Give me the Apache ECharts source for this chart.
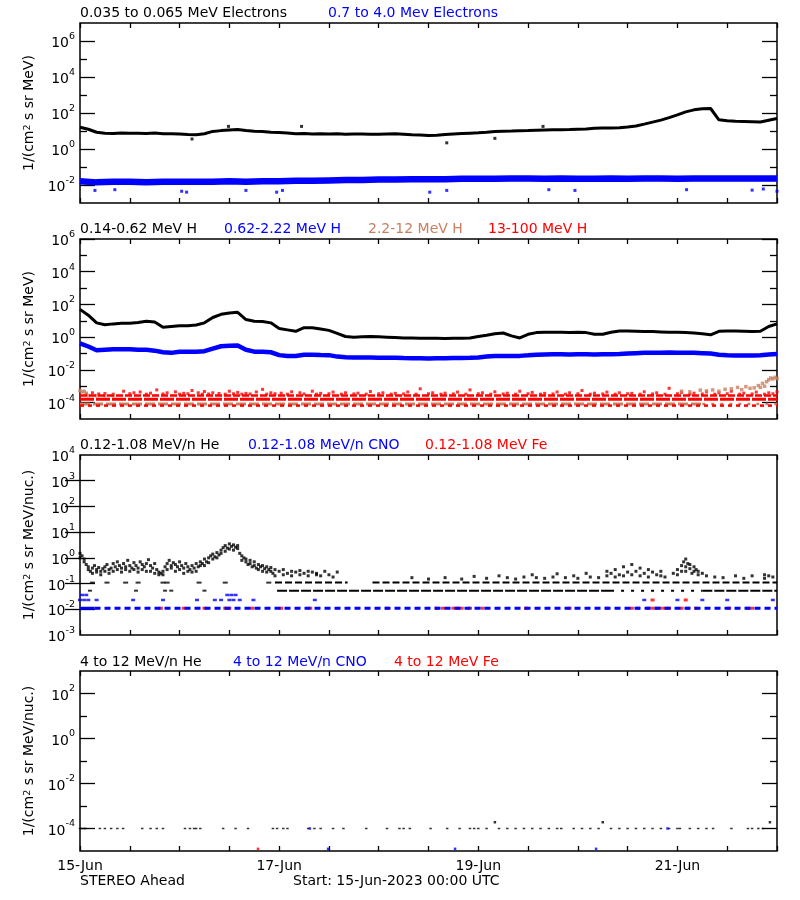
<!DOCTYPE html>
<html><head><meta charset="utf-8">
<script src="https://cdn.jsdelivr.net/npm/echarts@6/dist/echarts.min.js"></script>
<style>html,body{margin:0;padding:0;background:#fff}#c{width:800px;height:900px}</style>
</head><body><div id="c"></div>
<script>
// ---------------- DATA ----------------
// time in hours since 15-Jun-2023 00:00 UTC
const xLabelHours = [0, 48, 96, 144];
const xLabels = ['15-Jun', '17-Jun', '19-Jun', '21-Jun'];
const H2 = Array.from({length: 85}, (_, i) => i * 2);   // sample hours, 2 h cadence
const H4 = Array.from({length: 43}, (_, i) => i * 4);   // sample hours, 4 h cadence

// Panel 1: electrons
const eLowV = [16,12.5,8.5,7.5,7.2,7.8,7.4,7.6,7.3,7.8,
  7.1,7.0,6.8,6.3,6.2,7.0,9.5,10.5,11.5,12.0,
  10.8,9.8,9.4,8.6,8.2,7.8,7.0,7.2,6.9,7.1,
  6.8,7.0,6.7,6.9,6.8,6.5,6.7,6.9,7.0,6.6,
  6.2,6.0,5.6,5.8,6.4,6.8,7.2,7.6,8.0,8.6,
  9.5,9.8,10,10.3,10.6,11,11.3,11.6,11.8,12,
  12.5,13,14,14.5,14.5,15,16.5,19,24,31,
  40,55,78,115,150,170,178,42,37,35,
  34,33,32,40,50];
const eLowOut = [[27,3.6],[35.8,18],[53.4,18],[88.4,2.2],[100,3.9],[111.6,18]];
const eHighV = [0.016,0.014,0.015,0.015,0.014,0.015,0.015,0.015,0.015,0.016,
  0.015,0.016,0.016,0.017,0.017,0.018,0.019,0.019,0.02,0.02,
  0.021,0.021,0.021,0.022,0.022,0.022,0.023,0.023,0.022,0.023,
  0.022,0.022,0.023,0.022,0.023,0.023,0.022,0.023,0.023,0.023,
  0.023,0.023,0.023];
const eHighOut = [[3.6,0.005],[8.4,0.0055],[24.5,0.0045],[25.7,0.004],[40,0.005],[47.4,0.004],[48.8,0.005],
  [84.3,0.004],[88.4,0.005],[113,0.0055],[119.3,0.005],[146.2,0.0055],[162,0.0052],[164.7,0.006],[168,0.0045]];

// Panel 2: protons
const hLowV = [50,22,7.5,5.8,6.5,7.0,7.2,8.0,9.5,8.5,
  4.0,4.5,5.0,5.0,5.5,7.5,16,25,30,33,
  12,9.5,9.0,7.5,3.4,2.8,2.3,3.8,3.8,3.2,
  2.6,1.7,1.1,1.0,1.05,1.1,1.05,1.0,0.95,0.9,
  0.88,0.85,0.85,0.85,0.83,0.85,0.85,0.9,1.1,1.3,
  1.6,1.8,1.2,0.9,1.5,1.9,2.0,2.0,2.0,1.9,
  2.0,1.9,1.5,1.5,2.0,2.4,2.4,2.3,2.2,2.2,
  2.1,2.0,2.0,1.9,1.8,1.6,1.4,2.3,2.4,2.4,
  2.3,2.2,2.3,4.5,6.5];
const hMidV = [0.42,0.27,0.16,0.17,0.18,0.18,0.18,0.17,0.17,0.15,
  0.12,0.11,0.13,0.13,0.13,0.14,0.2,0.28,0.3,0.31,
  0.17,0.13,0.13,0.12,0.08,0.07,0.07,0.085,0.085,0.082,
  0.08,0.065,0.06,0.058,0.058,0.057,0.055,0.055,0.055,0.053,
  0.052,0.052,0.05,0.052,0.052,0.053,0.053,0.055,0.058,0.065,
  0.07,0.072,0.07,0.072,0.078,0.085,0.088,0.09,0.09,0.088,
  0.09,0.09,0.088,0.09,0.092,0.095,0.1,0.105,0.11,0.11,
  0.11,0.115,0.11,0.11,0.11,0.105,0.1,0.085,0.078,0.075,
  0.075,0.075,0.078,0.088,0.095];
const hRedRowLevels = [2.7e-4, 1.6e-4, 6.6e-5];
const hSiennaRowLevel = 8.3e-5;
const hSiennaRowSegs = [[0, 150]];
const hSiennaRowSparseSegs = [[150, 168]];
const hRedUpper = [[3,4e-4],[6,3.6e-4],[10.5,5e-4],[13,4e-4],[14.5,4.5e-4],[17,3.8e-4],[18.5,6e-4],[21,4e-4],
  [23,4.6e-4],[25,3.7e-4],[27,5.5e-4],[28.5,4e-4],[30,4.8e-4],[32,4e-4],[33.5,3.6e-4],[36,5e-4],[38,4.2e-4],
  [40,3.7e-4],[42.5,4.5e-4],[44,6.5e-4],[46,4e-4],[48.5,3.8e-4],[51,4.6e-4],[53,4e-4],[56,5e-4],[58,3.7e-4],
  [61,4.4e-4],[64,4e-4],[67,3.8e-4],[70,4.8e-4],[73,4e-4],[76,3.7e-4],[79,4.5e-4],[82,7e-4],[85,4e-4],
  [88,3.8e-4],[91,4.4e-4],[94,6e-4],[97,4e-4],[100,4.6e-4],[103,3.8e-4],[106,5e-4],[109,4.2e-4],[112,3.7e-4],
  [115,4.5e-4],[118,4e-4],[121,5.5e-4],[124,3.8e-4],[127,4.4e-4],[130,4e-4],[133,3.7e-4],[136,4.6e-4],
  [139,4e-4],[142,7.5e-4],[145,4.2e-4],[148,3.8e-4],[151,4.5e-4],[154,4e-4],[157,5e-4],[160,3.8e-4],
  [163,4.4e-4],[166,4e-4],[168,4.6e-4],
  [1.5,3.3e-4],[4.5,3.4e-4],[8,3.3e-4],[12,3.5e-4],[16,3.3e-4],[20,3.4e-4],[24,3.3e-4],[26,3.5e-4],[29.5,3.3e-4],
  [31,3.4e-4],[35,3.3e-4],[37,3.5e-4],[39,3.3e-4],[41,3.4e-4],[45,3.3e-4],[47,3.5e-4],[50,3.3e-4],[54,3.4e-4],
  [57,3.3e-4],[60,3.5e-4],[63,3.3e-4],[66,3.4e-4],[69,3.3e-4],[72,3.5e-4],[75,3.3e-4],[78,3.4e-4],[81,3.3e-4],
  [84,3.5e-4],[87,3.3e-4],[90,3.4e-4],[93,3.3e-4],[96,3.5e-4],[99,3.3e-4],[102,3.4e-4],[105,3.3e-4],[108,3.5e-4],
  [111,3.3e-4],[114,3.4e-4],[117,3.3e-4],[120,3.5e-4],[123,3.3e-4],[126,3.4e-4],[129,3.3e-4],[132,3.5e-4],
  [135,3.3e-4],[138,3.4e-4],[141,3.3e-4],[144,3.5e-4],[147,3.3e-4],[150,3.4e-4],[153,3.3e-4],[156,3.5e-4],
  [159,3.3e-4],[162,3.4e-4],[165,3.3e-4],[167,3.5e-4]];
const hSiennaPts = [[0,5.5e-4],[0.5,4.5e-4],[1,5e-4],[1.5,3.8e-4],[2,2.7e-4],[4,2.7e-4],[6,2.7e-4],[8,2.7e-4],
  [145,5e-4],[147,4.6e-4],[149.5,5.8e-4],[151,5.2e-4],[152.5,6e-4],[154,5e-4],[155.5,6.5e-4],[157,7e-4],
  [158.5,8.5e-4],[159.5,6.2e-4],[160.5,9.5e-4],[161.5,7.5e-4],[162.5,8e-4],[163.5,1.1e-3],[164,8.5e-4],
  [164.5,1.5e-3],[165,1.0e-3],[165.5,1.9e-3],[166,2.5e-3],[166.5,3.2e-3],[167,2.8e-3],[167.5,3.5e-3],[168,3.0e-3]];

// Panel 3: 0.12-1.08 MeV/n heavy ions
const heScatter = [[0,1.5],[0,1.0],[0.5,1.2],[1,0.9],[1,0.7],[1.5,0.55],[2,0.45],[2,0.35],[2.5,0.3],[3,0.4],[3,0.25],
  [3.5,0.5],[4,0.35],[4,0.28],[4.5,0.42],[5,0.3],[5,0.22],[5.5,0.38],[6,0.45],[6,0.3],[6.5,0.55],[7,0.35],[7,0.25],
  [7.5,0.4],[8,0.6],[8,0.3],[8.5,0.45],[9,0.35],[9,0.7],[9.5,0.5],[10,0.4],[10,0.28],[10.5,0.6],[11,0.45],[11,0.35],
  [11.5,0.8],[12,0.5],[12,0.3],[12.5,0.4],[13,0.65],[13,0.35],[13.5,0.5],[14,0.4],[14,0.28],[14.5,0.7],[15,0.55],
  [15,0.35],[15.5,0.45],[16,0.3],[16,0.6],[16.5,0.85],[17,0.5],[17,0.3],[17.5,0.4],[18,0.25],[18,0.6],[18.5,0.35],
  [19,0.28],[19,0.22],[19.5,0.25],[20,0.22],[20,0.3],[20.5,0.45],[21,0.6],[21,0.35],[21.5,0.8],[22,0.5],[22,0.4],
  [22.5,0.65],[23,0.3],[23,0.55],[23.5,0.45],[24,0.7],[24,0.35],[24.5,0.5],[25,0.4],[25,0.25],[25.5,0.6],[26,0.3],
  [26,0.45],[26.5,0.35],[27,0.5],[27,0.28],[27.5,0.4],[28,0.3],[28,0.6],[28.5,0.45],[29,0.5],[29,0.7],[29.5,0.6],
  [30,0.9],[30,0.5],[30.5,0.7],[31,1.0],[31,0.65],[31.5,1.2],[32,0.9],[32,1.4],[32.5,1.1],[33,1.6],[33,1.0],
  [33.5,1.3],[34,2.0],[34,1.5],[34.5,2.5],[35,1.8],[35,3.0],[35.5,2.4],[36,3.5],[36,2.2],[36.5,2.8],[37,3.2],
  [37,2.0],[37.5,2.6],[38,2.3],[38,3.0],[38.5,1.5],[39,1.2],[39,0.8],[39.5,1.0],[40,0.7],[40,0.9],[40.5,0.55],
  [41,0.6],[41,0.8],[41.5,0.45],[42,0.5],[42,0.7],[42.5,0.4],[43,0.55],[43,0.35],[43.5,0.45],[44,0.3],[44,0.5],
  [44.5,0.38],[45,0.45],[45,0.28],[45.5,0.35],[46,0.3],[46,0.42],[46.5,0.25],[47,0.35],[47,0.2],
  [48,0.3],[49,0.22],[49,0.35],[50,0.25],[51,0.3],[51,0.2],[52,0.28],[53,0.22],[53,0.32],[54,0.25],[55,0.3],
  [55,0.2],[56,0.28],[57,0.22],[57,0.25],[58,0.2],[59,0.3],[60,0.22],[61,0.18],[62,0.28],
  [80,0.17],[84,0.15],[88,0.17],[92,0.15],[95,0.19],[98,0.16],[101,0.2],[103,0.17],[105,0.15],[107,0.18],
  [109,0.22],[110,0.17],[112,0.16],[114,0.18],[115,0.24],[117,0.17],[119,0.2],[120,0.16],[122,0.25],[123,0.18],
  [125,0.17],[127,0.3],[127,0.2],[128,0.25],[129,0.18],[129,0.35],[130,0.22],[131,0.45],[131,0.2],[132,0.28],
  [133,0.55],[133,0.22],[134,0.3],[135,0.2],[135,0.4],[136,0.25],[137,0.35],[137,0.18],[138,0.28],[139,0.22],
  [140,0.3],[140,0.2],[141,0.18],[143,0.25],[144,0.35],[144,0.22],[145,0.5],[145,0.3],[145.5,0.7],[146,0.45],
  [146,0.9],[146,0.3],[146.5,0.6],[147,0.38],[147,0.55],[147.5,0.25],[148,0.45],[148,0.3],[148.5,0.35],[149,0.3],
  [149,0.22],[150,0.25],[151,0.2],[153,0.18],[155,0.17],[158,0.2],[160,0.16],[162,0.2],[165,0.22],[165,0.16],
  [166,0.2],[167,0.18]];
const heRowLevels = [0.109, 0.053];
const heRow1Segs = [[47, 64.5], [70.5, 168]];
const heRow1Pts = [3, 6.5, 11, 14, 20, 21, 28.7, 35, 45.5];
const heRow2Segs = [[47.5, 128], [150, 168]];
const heRow2SparseSegs = [[128, 150]];
const heRow2Pts = [2.4, 13.5, 20.5, 22, 30];
const cnoRowLevel = 0.011;
const cnoRowDenseSegs = [[0, 3.5]];
const cnoRowSegs = [[3.5, 168]];
const cnoUpper = [[0,0.023],[0.5,0.036],[1,0.023],[1.5,0.036],[2,0.023],[4,0.023],[12.8,0.023],[20,0.023],
  [28.2,0.023],[32.5,0.023],[34,0.023],[35.5,0.036],[36,0.023],[36.5,0.036],[37,0.023],[37.5,0.036],[38.5,0.023],
  [41.8,0.023],[56.6,0.023],[136,0.023],[144,0.023],[150,0.023],[156,0.023],[167,0.023]];
const fePts = [[19.5,0.011],[25,0.011],[30,0.011],[35,0.011],[36,0.011],[41.5,0.011],[48.5,0.011],[55.5,0.011],
  [74,0.011],[86,0.011],[87.5,0.011],[90,0.011],[91,0.011],[92,0.011],[94,0.011],[97,0.011],[107.5,0.011],
  [118,0.011],[127,0.011],[133,0.011],[134.5,0.011],[137,0.011],[138,0.011],[139,0.011],[140,0.011],[141,0.011],
  [142,0.011],[145,0.011],[146.5,0.011],[148.5,0.011],[156.5,0.011],[161,0.011],[162,0.011],[138,0.023],[146,0.023]];

// Panel 4: 4-12 MeV/n heavy ions
const p4HeTimes = [0,0.5,1,1.3,4.8,6,7.5,9,10.4,15,17,18.5,20,25.3,26.5,27.5,28,29,34.5,37.5,40.5,46.5,47.5,49,50,
  55,56.5,58,61,63.5,69,74,77,78,79.5,84.5,88.5,91.5,94,95,96,98,101,103,105,107,109,111,113,115,116,119,121,
  123,125,128,130,132,134,136,138,140,142,144,144.6,147,149,151,152.6,157,161,162,163.5,164.6];
const p4HeLevel = 1e-4;
const p4HeHigh = [[100,1.9e-4],[126,1.9e-4],[166.3,1.9e-4]];
const p4Cno = [[59.8,1.25e-5],[90.4,1.25e-5],[124.4,1.25e-5],[141.6,1e-4],[55.4,1e-4]];
const p4Fe = [[42.9,1.25e-5]];

// Panel titles
const titles = [
  [['0.035 to 0.065 MeV Electrons', '#000'], ['0.7 to 4.0 Mev Electrons', '#0000ff']],
  [['0.14-0.62 MeV H', '#000'], ['0.62-2.22 MeV H', '#0000ff'], ['2.2-12 MeV H', '#c87f62'], ['13-100 MeV H', '#ff0000']],
  [['0.12-1.08 MeV/n He', '#000'], ['0.12-1.08 MeV/n CNO', '#0000ff'], ['0.12-1.08 MeV Fe', '#ff0000']],
  [['4 to 12 MeV/n He', '#000'], ['4 to 12 MeV/n CNO', '#0000ff'], ['4 to 12 MeV Fe', '#ff0000']]
];
const yNames = ['1/(cm{e|2} s sr MeV)', '1/(cm{e|2} s sr MeV)', '1/(cm{e|2} s sr MeV/nuc.)', '1/(cm{e|2} s sr MeV/nuc.)'];

// ---------------- LAYOUT / STYLE ----------------
const FONT = 'DejaVu Sans';
const FS = 14;
const gridTops = [23, 239, 455, 671];
const titleY = [13, 229, 445, 662];
const titleX = [[80, 328], [80, 224, 368, 488], [80, 248, 425], [80, 233, 394]];
const yExt = [[-3, 7], [-5, 6], [-3, 4], [-5, 3]];
const yMajor = [[-2, 0, 2, 4, 6], [-4, -2, 0, 2, 4, 6], [-2, -1, 0, 1, 2, 3], [-4, -2, 0, 2]];
const yMinor = [[-1, 1, 3, 5], [-3, -1, 1, 3, 5], [], [-3, -1, 1]];
const yLab = [[-2, 0, 2, 4, 6], [-4, -2, 0, 2, 4, 6], [-3, -2, -1, 0, 1, 2, 3, 4], [-4, -2, 0, 2]];

const p10 = e => Math.pow(10, e);
const tickStyle = {color: '#000', width: 1.3};
const rich = {
  b: {fontSize: FS, fontFamily: FONT, color: '#000', verticalAlign: 'bottom', lineHeight: 19},
  e: {fontSize: 9.5, fontFamily: FONT, color: '#000', verticalAlign: 'top', lineHeight: 11}
};

const grids = gridTops.map(t => ({left: 80, top: t, width: 697, height: 180, show: true,
  borderColor: '#000', borderWidth: 1.5, backgroundColor: 'transparent', containLabel: false, outerBoundsMode: 'none'}));

const xAxes = [];
[0, 1, 2, 3].forEach(g => {
  ['bottom', 'top'].forEach(pos => {
    xAxes.push({type: 'value', gridIndex: g, position: pos, min: 0, max: 168, interval: 12,
      axisLine: {show: false}, splitLine: {show: false},
      axisTick: {show: true, inside: true, length: 5, lineStyle: tickStyle},
      axisLabel: (g === 3 && pos === 'bottom') ? {show: true, customValues: xLabelHours, margin: 8,
        fontSize: FS, fontFamily: FONT, color: '#000', showMinLabel: true, showMaxLabel: true,
        formatter: v => xLabels[xLabelHours.indexOf(Math.round(v))] || ''} : {show: false}});
  });
});

const yAxes = [];
const dataY = [];
[0, 1, 2, 3].forEach(g => {
  const base = {type: 'log', logBase: 10, gridIndex: g, min: p10(yExt[g][0]), max: p10(yExt[g][1]),
    axisLine: {show: false}, splitLine: {show: false}};
  ['left', 'right'].forEach(pos => {
    const main = Object.assign({}, base, {position: pos,
      axisTick: {show: true, inside: true, length: 15, customValues: yMajor[g].map(p10), lineStyle: tickStyle},
      axisLabel: pos === 'left' ? {show: true, customValues: yLab[g].map(p10), margin: 5, rich: rich,
        showMinLabel: true, showMaxLabel: true,
        formatter: v => '{b|10}{e|' + Math.round(Math.log10(v)) + '}'} : {show: false}});
    if (pos === 'left') {
      main.name = yNames[g]; main.nameLocation = 'middle'; main.nameGap = 34; main.nameRotate = 90;
      main.nameTextStyle = {fontSize: FS, fontFamily: FONT, color: '#000', rich: {
        e: {fontSize: 9.5, fontFamily: FONT, color: '#000', verticalAlign: 'top', lineHeight: 11}}};
      dataY[g] = yAxes.length;
    }
    yAxes.push(main);
    if (yMinor[g].length) {
      yAxes.push(Object.assign({}, base, {position: pos,
        axisTick: {show: true, inside: true, length: 7, customValues: yMinor[g].map(p10), lineStyle: tickStyle},
        axisLabel: {show: false}}));
    }
  });
});

// ---------------- SERIES ----------------
const pairs = (t, v) => t.map((x, i) => [x, v[i]]);
const segData = (segs, level) => { const d = []; segs.forEach(s => { d.push([s[0], level], [s[1], level], [s[1], '-']); }); return d; };
const line = (g, data, color, width, dash) => ({type: 'line', xAxisIndex: 2 * g, yAxisIndex: dataY[g], data: data,
  showSymbol: false, symbol: 'none', connectNulls: false, silent: true,
  lineStyle: {color: color, width: width, type: dash || 'solid', cap: 'butt'}});
const dots = (g, data, color, size) => ({type: 'scatter', xAxisIndex: 2 * g, yAxisIndex: dataY[g], data: data,
  symbol: 'rect', symbolSize: size || 3, silent: true, itemStyle: {color: color}});

const series = [
  // panel 1
  line(0, pairs(H4, eHighV), '#0000ff', 6.5),
  dots(0, eHighOut, '#0000ff', 3),
  line(0, pairs(H2, eLowV), '#000', 3),
  dots(0, eLowOut, '#000', 3),
  // panel 2
  line(1, segData([[0, 168]], hRedRowLevels[0]), '#ff0000', 2.5, [7, 2]),
  line(1, segData([[0, 168]], hRedRowLevels[1]), '#ff0000', 3, [14, 2]),
  line(1, segData(hSiennaRowSegs, hSiennaRowLevel), '#c87f62', 3, [10, 3]),
  line(1, segData(hSiennaRowSparseSegs, hSiennaRowLevel), '#c87f62', 2.5, [3, 6]),
  line(1, segData([[0, 168]], hRedRowLevels[2]), '#ff0000', 2.5, [4, 4]),
  dots(1, hRedUpper, '#ff0000', 3),
  dots(1, hSiennaPts, '#c87f62', 3.5),
  line(1, pairs(H2, hMidV), '#0000ff', 4.5),
  line(1, pairs(H2, hLowV), '#000', 3),
  // panel 3
  line(2, segData(cnoRowDenseSegs, cnoRowLevel), '#0000ff', 3),
  line(2, segData(cnoRowSegs, cnoRowLevel), '#0000ff', 3, [6, 4]),
  dots(2, cnoUpper, '#0000ff', [4, 2.5]),
  dots(2, fePts, '#ff0000', [4, 3]),
  line(2, segData(heRow1Segs, heRowLevels[0]), '#000', 2, [7, 3]),
  dots(2, heRow1Pts.map(t => [t, heRowLevels[0]]), '#000', [5, 2]),
  line(2, segData(heRow2Segs, heRowLevels[1]), '#000', 2, [10, 2]),
  line(2, segData(heRow2SparseSegs, heRowLevels[1]), '#000', 2, [3, 7]),
  dots(2, heRow2Pts.map(t => [t, heRowLevels[1]]), '#000', [4, 2]),
  dots(2, heScatter, '#000', 3),
  // panel 4
  dots(3, p4HeTimes.map(t => [t, p4HeLevel]), '#000', [2.5, 1.5]),
  dots(3, p4HeHigh, '#000', 2.5),
  dots(3, p4Cno, '#0000ff', 2.5),
  dots(3, p4Fe, '#ff0000', 2.5)
];

// ---------------- TEXT ----------------
const graphic = [];
titles.forEach((row, g) => row.forEach((it, k) => {
  graphic.push({type: 'text', x: titleX[g][k], y: titleY[g], silent: true,
    style: {text: it[0], fill: it[1], fontSize: FS, fontFamily: FONT, verticalAlign: 'middle', align: 'left'}});
}));
graphic.push({type: 'text', x: 80, y: 881, style: {text: 'STEREO Ahead', fill: '#000', fontSize: FS, fontFamily: FONT, verticalAlign: 'middle'}});
graphic.push({type: 'text', x: 293, y: 881, style: {text: 'Start: 15-Jun-2023 00:00 UTC', fill: '#000', fontSize: FS, fontFamily: FONT, verticalAlign: 'middle'}});

const chart = echarts.init(document.getElementById('c'), null, {renderer: 'canvas'});
chart.setOption({
  animation: false,
  backgroundColor: '#fff',
  textStyle: {fontFamily: FONT},
  grid: grids, xAxis: xAxes, yAxis: yAxes, series: series, graphic: graphic
});
</script></body></html>
